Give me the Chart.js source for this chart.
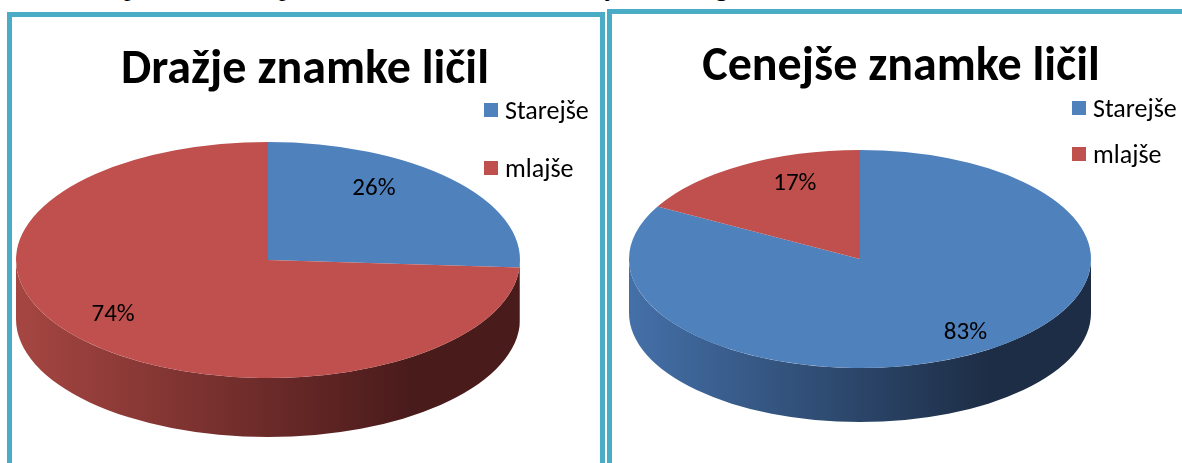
<!DOCTYPE html>
<html>
<head>
<meta charset="utf-8">
<script src="https://cdn.jsdelivr.net/npm/chart.js@4.4.1/dist/chart.umd.min.js"></script>
<style>
  body { margin: 0; width: 1182px; height: 463px; overflow: hidden; background: #fff; position: relative; font-family: Carlito, Lato, "Open Sans", sans-serif; }
  .box { position: absolute; border: 5px solid #4BACC6; box-sizing: border-box; }
  #boxL { left: 7px; top: 12px; width: 598px; height: 480px; }
  #boxR { left: 607px; top: 9px; width: 600px; height: 480px; }
  .wrap { position: absolute; }
  #wrapL { left: 0; top: 0; width: 600px; height: 463px; }
  #wrapR { left: 606px; top: 0; width: 576px; height: 463px; }
  .title { position: absolute; font-weight: bold; font-size: 48px; color: #000; white-space: nowrap; transform: translateX(-50%); line-height: 1; }
  .legend { position: absolute; font-size: 26px; color: #000; }
  .legend .row { position: absolute; left: 0; white-space: nowrap; line-height: 26px; height: 26px; }
  .legend .sw { position: absolute; left: 0; top: 6px; width: 14px; height: 14px; }
  .legend .txt { position: absolute; left: 21px; top: 0; }
  .cut { position: absolute; top: -25px; font: 26px "Liberation Serif", serif; line-height: 26px; color: #000; }
</style>
</head>
<body>
<span class="cut" style="left:124px">p</span>
<span class="cut" style="left:279px">p</span>
<span class="cut" style="left:606px">j</span>
<span class="cut" style="left:715px">g</span>
<div class="box" id="boxL"></div>
<div class="box" id="boxR"></div>
<div class="wrap" id="wrapL"><canvas id="pieL"></canvas></div>
<div class="wrap" id="wrapR"><canvas id="pieR"></canvas></div>
<div class="title" id="titleL" style="left:305px; top:43px"></div>
<div class="title" id="titleR" style="left:901px; top:40px"></div>
<div class="legend" id="legendL" style="left:484px; top:97px"></div>
<div class="legend" id="legendR" style="left:1072px; top:95px"></div>
<script>
// data
const labels = ['Starejše', 'mlajše'];
const titleLeft = 'Dražje znamke ličil';
const titleRight = 'Cenejše znamke ličil';
const valuesLeft = [26, 74];
const valuesRight = [83, 17];

// office 2007 colours
const topColors = ['#4F81BD', '#C0504D'];
const sideColors = [['#4470A8', '#1D2D45'], ['#A64642', '#4A1B1B']];

// fake 3d: squash the pie vertically and draw a side band under the front half
const pie3d = {
  id: 'pie3d',
  beforeDatasetsDraw(chart, args, opts) {
    const arcs = chart.getDatasetMeta(0).data;
    if (!arcs.length) return;
    const ctx = chart.ctx;
    const {x, y, outerRadius: r} = arcs[0];
    const k = opts.tilt;
    const d = opts.depth / k;
    ctx.save();
    ctx.translate(x, y);
    ctx.scale(1, k);
    ctx.translate(-x, -y);
    arcs.forEach((arc, i) => {
      const s = Math.max(arc.startAngle, 0);
      const e = Math.min(arc.endAngle, Math.PI);
      if (s >= e) return;
      const g = ctx.createLinearGradient(x - r, 0, x + r, 0);
      g.addColorStop(0, sideColors[i][0]);
      g.addColorStop(0.78, sideColors[i][1]);
      g.addColorStop(1, sideColors[i][1]);
      ctx.beginPath();
      ctx.arc(x, y, r, s, e);
      ctx.arc(x, y + d, r, e, s, true);
      ctx.closePath();
      ctx.fillStyle = g;
      ctx.fill();
    });
  },
  afterDatasetsDraw(chart, args, opts) {
    const ctx = chart.ctx;
    ctx.restore();
    const arcs = chart.getDatasetMeta(0).data;
    const vals = chart.data.datasets[0].data;
    const total = vals.reduce((a, b) => a + b, 0);
    ctx.save();
    ctx.font = '25px Carlito, Lato, "Open Sans", sans-serif';
    ctx.fillStyle = '#000';
    ctx.textAlign = 'center';
    ctx.textBaseline = 'middle';
    arcs.forEach((arc, i) => {
      // excel puts labels with a bit of perspective (near side spreads out)
      const mid = (arc.startAngle + arc.endAngle) / 2;
      const rr = opts.labelPos;
      const p = 1 - opts.persp * rr * Math.sin(mid);
      const ry = arc.outerRadius * opts.tilt;
      const px = arc.x + Math.cos(mid) * arc.outerRadius * rr / p;
      const py = arc.y - ry * opts.lift + Math.sin(mid) * ry * 1.1 * rr / p;
      ctx.fillText(Math.round(vals[i] / total * 100) + '%', px, py);
    });
    ctx.restore();
  }
};

function makePie(id, values, rx, tilt, depth, padding) {
  return new Chart(document.getElementById(id), {
    type: 'pie',
    data: {
      labels: labels,
      datasets: [{
        data: values,
        backgroundColor: topColors,
        borderWidth: 0,
        radius: rx,
        clip: false
      }]
    },
    options: {
      responsive: true,
      maintainAspectRatio: false,
      animation: false,
      events: [],
      layout: { padding: padding },
      plugins: {
        legend: { display: false },
        tooltip: { enabled: false },
        pie3d: { tilt: tilt, depth: depth, labelPos: 0.685, persp: 0.4, lift: 0.17 }
      }
    },
    plugins: [pie3d]
  });
}

// left pie centre (268,260), right pie centre (860,259) in page coords
makePie('pieL', valuesLeft, 252, 118 / 252, 59, { left: 0, right: 64, top: 57, bottom: 0 });
makePie('pieR', valuesRight, 231, 109 / 231, 54, { left: 0, right: 68, top: 55, bottom: 0 });

document.getElementById('titleL').textContent = titleLeft;
document.getElementById('titleR').textContent = titleRight;

function buildLegend(id, gap) {
  const el = document.getElementById(id);
  labels.forEach((lab, i) => {
    const row = document.createElement('div');
    row.className = 'row';
    row.style.top = (i * gap) + 'px';
    const sw = document.createElement('span');
    sw.className = 'sw';
    sw.style.background = topColors[i];
    const txt = document.createElement('span');
    txt.className = 'txt';
    txt.textContent = lab;
    row.appendChild(sw);
    row.appendChild(txt);
    el.appendChild(row);
  });
}
buildLegend('legendL', 58);
buildLegend('legendR', 46);
</script>
</body>
</html>
